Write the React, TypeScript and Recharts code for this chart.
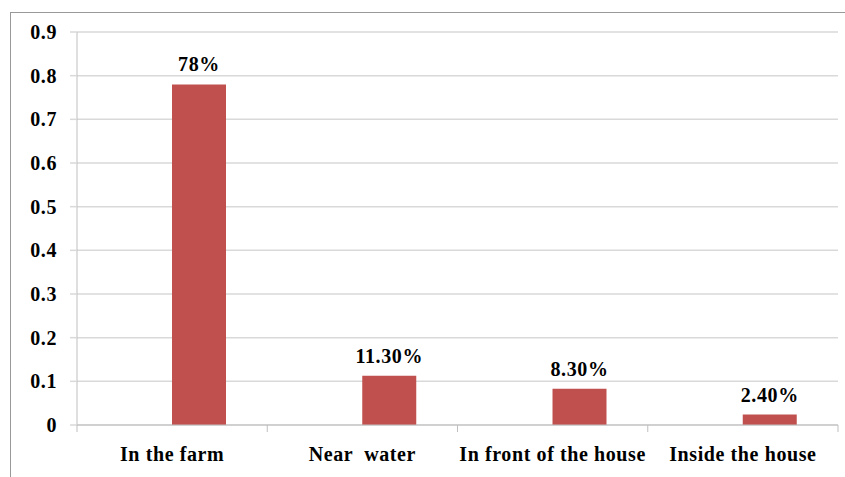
import { BarChart, Bar, XAxis, YAxis, CartesianGrid, LabelList } from "recharts";

const places = ["In the farm", "Near  water", "In front of the house", "Inside the house"];
const shares = [0.78, 0.113, 0.083, 0.024];
const shareLabels = ["78%", "11.30%", "8.30%", "2.40%"];
const yTicks = [0, 0.1, 0.2, 0.3, 0.4, 0.5, 0.6, 0.7, 0.8, 0.9];

const data = places.map((p, i) => ({ place: p, blank: 0, share: shares[i], label: shareLabels[i] }));

const FONT = "'Liberation Serif', 'Times New Roman', serif";
const GRID = "#d9d9d9";
const AXIS = "#bfbfbf";
const MARGIN = 22;

// category label plus the Excel-style tick marks at the band edges
function PlaceTick(props: any) {
  const { x, y, payload, index, width, visibleTicksCount } = props;
  const band = width / visibleTicksCount;
  const axisY = y - MARGIN;
  const last = index === visibleTicksCount - 1;
  return (
    <g>
      <line x1={x - band / 2} x2={x - band / 2} y1={axisY} y2={axisY + 7} stroke={AXIS} />
      {last && <line x1={x + band / 2} x2={x + band / 2} y1={axisY} y2={axisY + 7} stroke={AXIS} />}
      <text x={x} y={y} dy="0.71em" textAnchor="middle" fill="#000"
        style={{ whiteSpace: "pre", fontFamily: FONT, fontWeight: "bold", fontSize: 20, letterSpacing: 0.6 }}>
        {payload.value}
      </text>
    </g>
  );
}

export default function App() {
  return (
    <div style={{ position: "absolute", left: 0, top: 0, width: 845, height: 477, overflow: "hidden", background: "#fff" }}>
      <div style={{ position: "absolute", left: 10, top: 12, width: 900, height: 500, border: "1px solid #999" }} />
      <div style={{ position: "absolute", left: 0, top: 0 }}>
        <BarChart width={845} height={477} data={data} margin={{ top: 32, right: 7, bottom: 0, left: 0 }}
          barGap={0} barSize={54}>
          <CartesianGrid vertical={false} stroke={GRID} strokeWidth={1.5} />
          <YAxis domain={[0, 0.9]} ticks={yTicks} width={77} tickSize={7} tickMargin={13}
            axisLine={{ stroke: AXIS }} tickLine={{ stroke: GRID, strokeWidth: 1.5 }}
            tickFormatter={(v: number) => String(Math.round(v * 10) / 10)}
            tick={{ fill: "#000", style: { fontFamily: FONT, fontWeight: "bold", fontSize: 20, letterSpacing: 0.6 } }} />
          <XAxis dataKey="place" height={52} tickSize={0} tickMargin={MARGIN} tickLine={false}
            axisLine={{ stroke: AXIS }} tick={<PlaceTick />} interval={0} />
          <Bar dataKey="blank" fill="#4f81bd" isAnimationActive={false} />
          <Bar dataKey="share" fill="#c0504d" isAnimationActive={false}>
            <LabelList dataKey="label" position="top" offset={13} fill="#000"
              style={{ fontFamily: FONT, fontWeight: "bold", fontSize: 20, letterSpacing: 0.6 }} />
          </Bar>
        </BarChart>
      </div>
    </div>
  );
}
